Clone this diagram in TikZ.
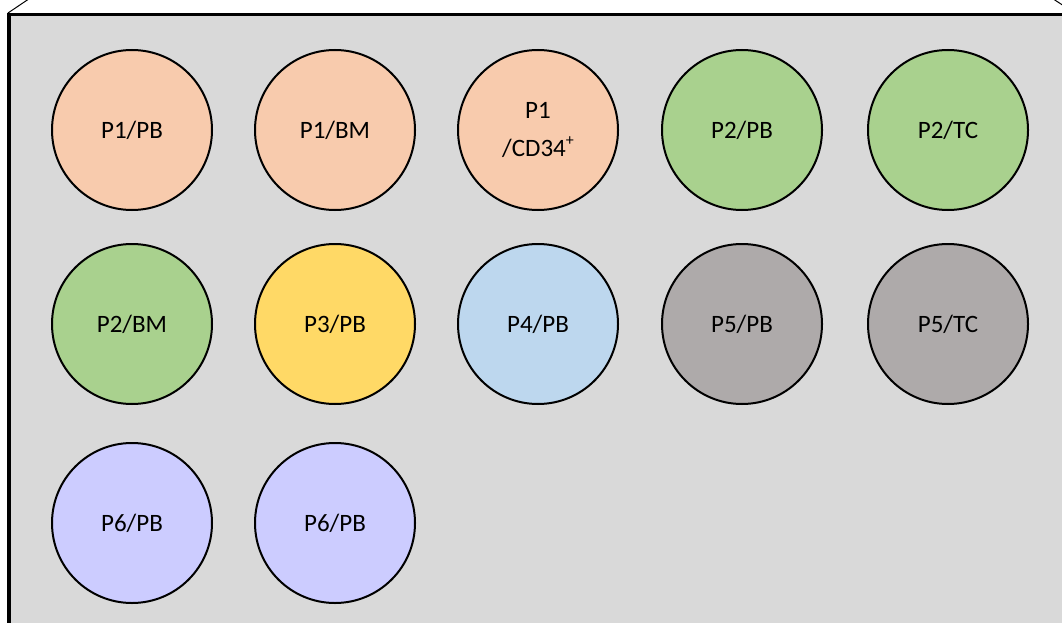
\documentclass[tikz,border=0pt]{standalone}
\usepackage{fontspec}
\setmainfont{Carlito}
\definecolor{bg}{HTML}{D9D9D9}
\definecolor{peach}{HTML}{F8CBAD}
\definecolor{grn}{HTML}{A9D18E}
\definecolor{yel}{HTML}{FFD966}
\definecolor{lblue}{HTML}{BDD7EE}
\definecolor{gry}{HTML}{AEAAAA}
\definecolor{lav}{HTML}{CCCCFF}
\begin{document}
\begin{tikzpicture}[x=1pt,y=-1pt,
  well/.style={circle,draw=black,line width=2pt,minimum size=160pt,inner sep=0pt,
    font=\fontsize{25}{38}\selectfont,align=center}]
\useasboundingbox (0,0) rectangle (1062,623);
\fill[white] (0,0) rectangle (1062,623);
\fill[bg] (9,14.5) rectangle (1070,630);
\draw[line width=3.8pt] (9,630) -- (9,14.5) -- (1070,14.5);
\coordinate (tl) at (8,13);
\coordinate (tlb) at (28,-0.5);
\draw[line width=1pt] (tl) -- (tlb);
\coordinate (tr1) at (1054,-0.5);
\coordinate (tr2) at (1064,6);
\draw[line width=1pt] (tr1) -- (tr2);
\node[well,fill=peach] (a1) at (132,130) {P1/PB};
\node[well,fill=peach] (a2) at (335,130) {P1/BM};
\node[well,fill=peach] (a3) at (538,130) {P1\\/CD34{\raisebox{0.45em}{\fontsize{16}{16}\selectfont+}}};
\node[well,fill=grn] (a4) at (742,130) {P2/PB};
\node[well,fill=grn] (a5) at (948,130) {P2/TC};
\node[well,fill=grn] (b1) at (132,324) {P2/BM};
\node[well,fill=yel] (b2) at (335,324) {P3/PB};
\node[well,fill=lblue] (b3) at (538,324) {P4/PB};
\node[well,fill=gry] (b4) at (742,324) {P5/PB};
\node[well,fill=gry] (b5) at (948,324) {P5/TC};
\node[well,fill=lav] (c1) at (132,523) {P6/PB};
\node[well,fill=lav] (c2) at (335,523) {P6/PB};
\end{tikzpicture}
\end{document}
